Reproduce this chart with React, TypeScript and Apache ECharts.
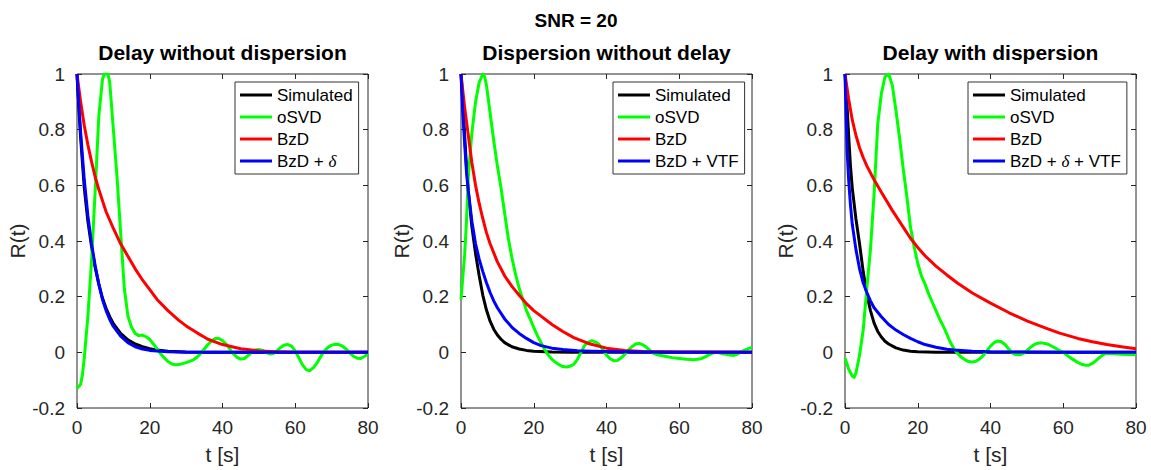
import React, { useEffect, useRef } from "react";
import * as echarts from "echarts";

const FONT = "'Liberation Sans', Arial, Helvetica, sans-serif";

const mainTitle = "SNR = 20";
const panelTitles = ["Delay without dispersion", "Dispersion without delay", "Delay with dispersion"];
const seriesNames = [
  ["Simulated", "oSVD", "BzD", "BzD + δ"],
  ["Simulated", "oSVD", "BzD", "BzD + VTF"],
  ["Simulated", "oSVD", "BzD", "BzD + δ + VTF"],
];
const seriesColors = ["#000000", "#00ff00", "#ff0000", "#0000ff"];
const xLabel = "t [s]";
const yLabel = "R(t)";

// Panel 1: Delay without dispersion
const p1Sim = [[0,1],[0.5,0.88],[1,0.77],[2,0.59],[3,0.47],[4,0.38],[5,0.305],[6,0.245],[7,0.195],[8,0.158],[9,0.128],[10,0.103],[12,0.068],[14,0.045],[16,0.03],[18,0.02],[20,0.013],[22,0.008],[25,0.004],[30,0.001],[35,0],[80,0]];
const p1Osvd = [[0,-0.13],[1,-0.115],[1.5,-0.08],[2,-0.02],[3,0.13],[4,0.33],[5,0.58],[6,0.85],[7,0.98],[7.5,1.0],[8.5,1.0],[9,0.97],[10,0.8],[11,0.63],[12,0.43],[13,0.23],[14,0.13],[15,0.09],[16,0.068],[17,0.06],[18,0.062],[19,0.056],[20,0.046],[21,0.03],[22,0.012],[23,-0.005],[24,-0.02],[25,-0.033],[26,-0.041],[27,-0.045],[28,-0.044],[30,-0.037],[32,-0.027],[33,-0.018],[34,-0.003],[35,0.012],[36,0.028],[37,0.041],[38,0.05],[39,0.05],[40,0.042],[41,0.03],[42,0.012],[43,-0.005],[44,-0.018],[45,-0.024],[46,-0.022],[47,-0.012],[48,0],[49,0.008],[50,0.01],[51,0.007],[52,0],[53,-0.006],[54,-0.004],[55,0.006],[56,0.018],[57,0.026],[58,0.028],[59,0.022],[60,0.005],[61,-0.02],[62,-0.045],[63,-0.062],[64,-0.066],[65,-0.055],[66,-0.038],[67,-0.015],[68,0.005],[69,0.018],[70,0.026],[71,0.029],[72,0.028],[73,0.022],[74,0.012],[75,-0.002],[76,-0.014],[77,-0.021],[78,-0.022],[79,-0.015],[80,-0.005]];
const p1Bzd = [[0,1],[1,0.9],[2,0.815],[3,0.745],[4,0.685],[5,0.63],[6,0.585],[8,0.505],[10,0.445],[12,0.39],[14,0.345],[16,0.3],[18,0.26],[20,0.225],[22,0.19],[25,0.15],[28,0.115],[30,0.095],[33,0.07],[36,0.047],[40,0.028],[45,0.013],[50,0.005],[55,0.002],[60,0],[80,0]];
const p1Fit = [[0,1],[0.5,0.89],[1,0.79],[2,0.62],[3,0.49],[4,0.39],[5,0.31],[6,0.245],[7,0.19],[8,0.15],[9,0.118],[10,0.093],[12,0.058],[14,0.035],[16,0.02],[18,0.012],[20,0.007],[25,0.002],[30,0],[80,0]];

// Panel 2: Dispersion without delay
const p2Sim = [[0,1],[0.5,0.9],[1,0.78],[1.5,0.67],[2,0.58],[3,0.45],[4,0.355],[5,0.275],[6,0.205],[7,0.152],[8,0.112],[9,0.083],[10,0.062],[11,0.047],[12,0.035],[14,0.02],[16,0.012],[18,0.007],[20,0.004],[25,0.001],[30,0],[80,0]];
const p2Osvd = [[0,0.19],[1,0.35],[1.5,0.47],[2,0.63],[3,0.79],[4,0.9],[5,0.97],[6,1.0],[6.5,0.99],[7,0.96],[8,0.86],[9,0.76],[10,0.67],[11,0.59],[12,0.5],[13,0.41],[14,0.34],[15,0.28],[16,0.23],[17,0.19],[18,0.15],[19,0.12],[20,0.09],[21,0.06],[22,0.035],[23,0.01],[24,-0.01],[25,-0.025],[26,-0.036],[27,-0.045],[28,-0.051],[29,-0.053],[30,-0.05],[31,-0.043],[32,-0.025],[33,0],[34,0.025],[35,0.037],[36,0.042],[37,0.037],[38,0.028],[39,0.01],[40,-0.01],[41,-0.023],[42,-0.03],[43,-0.029],[44,-0.02],[45,-0.008],[46,0.008],[47,0.02],[48,0.03],[49,0.032],[50,0.027],[51,0.018],[52,0.006],[53,-0.004],[54,-0.009],[56,-0.014],[58,-0.019],[60,-0.022],[62,-0.025],[64,-0.027],[66,-0.023],[67,-0.017],[68,-0.01],[69,-0.003],[70,0],[71,-0.002],[72,-0.005],[74,-0.01],[75,-0.011],[76,-0.006],[77,0.002],[78,0.008],[79,0.013],[80,0.018]];
const p2Bzd = [[0,1],[1,0.88],[2,0.78],[3,0.68],[4,0.6],[5,0.535],[6,0.48],[7,0.43],[8,0.39],[10,0.325],[12,0.275],[14,0.237],[16,0.205],[18,0.175],[20,0.15],[22,0.13],[25,0.1],[28,0.075],[31,0.053],[35,0.032],[40,0.015],[45,0.007],[50,0.003],[60,0.001],[80,0]];
const p2Fit = [[0,1],[0.5,0.86],[1,0.75],[1.5,0.65],[2,0.58],[3,0.47],[4,0.39],[5,0.335],[6,0.29],[7,0.25],[8,0.215],[9,0.185],[10,0.16],[12,0.12],[14,0.09],[16,0.068],[18,0.05],[20,0.035],[22,0.024],[25,0.015],[28,0.01],[32,0.006],[36,0.004],[40,0.003],[50,0.001],[60,0],[80,0]];

// Panel 3: Delay with dispersion
const p3Sim = [[0,1],[0.5,0.9],[1,0.78],[1.5,0.67],[2,0.59],[3,0.48],[4,0.39],[5,0.29],[6,0.21],[7,0.15],[8,0.105],[9,0.075],[10,0.055],[11,0.04],[12,0.03],[14,0.016],[16,0.008],[18,0.004],[20,0.002],[25,0],[80,0]];
const p3Osvd = [[0,-0.02],[1,-0.06],[2,-0.085],[2.5,-0.09],[3,-0.075],[4,-0.01],[5,0.08],[6,0.23],[7,0.37],[8,0.57],[9,0.82],[10,0.93],[11,0.99],[12,1.0],[13,0.96],[14,0.87],[15,0.77],[16,0.66],[17,0.56],[18,0.45],[19,0.38],[20,0.32],[21,0.275],[22,0.245],[23,0.21],[24,0.18],[25,0.15],[26,0.12],[27,0.095],[28,0.065],[29,0.035],[30,0.012],[31,-0.005],[32,-0.018],[33,-0.027],[34,-0.033],[35,-0.035],[36,-0.032],[37,-0.024],[38,-0.012],[39,0.005],[40,0.022],[41,0.035],[42,0.041],[43,0.038],[44,0.028],[45,0.012],[46,-0.002],[47,-0.008],[48,-0.009],[49,-0.004],[50,0.006],[51,0.018],[52,0.028],[53,0.033],[54,0.034],[55,0.032],[56,0.028],[57,0.021],[58,0.014],[59,0.006],[60,0],[61,-0.01],[62,-0.02],[63,-0.028],[64,-0.036],[65,-0.043],[66,-0.046],[67,-0.046],[68,-0.04],[69,-0.03],[70,-0.018],[71,-0.008],[72,-0.003],[74,-0.005],[76,-0.007],[78,-0.008],[80,-0.008]];
const p3Bzd = [[0,1],[1,0.91],[2,0.835],[3,0.78],[4,0.735],[5,0.7],[6,0.67],[8,0.62],[10,0.575],[13,0.51],[16,0.45],[18,0.41],[20,0.377],[22,0.347],[25,0.31],[28,0.278],[31,0.248],[35,0.213],[40,0.177],[45,0.143],[50,0.113],[55,0.088],[59,0.069],[64,0.05],[68,0.038],[72,0.028],[76,0.02],[80,0.013]];
const p3Fit = [[0,1],[0.3,0.85],[0.6,0.72],[1,0.62],[1.5,0.53],[2,0.46],[3,0.37],[4,0.3],[5,0.25],[6,0.215],[7,0.185],[8,0.16],[10,0.128],[12,0.1],[14,0.08],[16,0.064],[18,0.05],[20,0.038],[22,0.028],[25,0.018],[28,0.011],[30,0.008],[35,0.004],[40,0.002],[50,0.001],[60,0],[80,0]];

const panelData = [
  [p1Sim, p1Osvd, p1Bzd, p1Fit],
  [p2Sim, p2Osvd, p2Bzd, p2Fit],
  [p3Sim, p3Osvd, p3Bzd, p3Fit],
];

const xMin = 0, xMax = 80, xStep = 20;
const yMin = -0.2, yMax = 1, yStep = 0.2;

export default function App() {
  const ref = useRef<HTMLDivElement>(null);
  useEffect(() => {
    document.body.style.margin = "0";
    if (!ref.current) return;
    const chart = echarts.init(ref.current, null, { renderer: "svg" });

    const lefts = [77, 461, 845];
    const gw = 291, gt = 74, gh = 338;
    const legendLefts = [235, 613, 968];
    const axisColor = "#262626";

    const grid: any[] = [];
    const xAxis: any[] = [];
    const yAxis: any[] = [];
    const series: any[] = [];
    const legend: any[] = [];
    const graphic: any[] = [];

    graphic.push({
      type: "text", x: 576, y: 20,
      style: { text: mainTitle, fontSize: 19, fontWeight: "bold", fontFamily: FONT, fill: "#000",
        align: "center", verticalAlign: "middle", textAlign: "center", textVerticalAlign: "middle" },
    });

    const tick = { show: true, inside: true, length: 5, lineStyle: { color: axisColor, width: 1 } };

    for (let i = 0; i < 3; i++) {
      grid.push({ left: lefts[i], top: gt, width: gw, height: gh, show: true, borderColor: axisColor, borderWidth: 1, backgroundColor: "transparent" });
      graphic.push({
        type: "text", x: lefts[i] + gw / 2, y: 52,
        style: { text: panelTitles[i], fontSize: 21, fontWeight: "bold", fontFamily: FONT, fill: "#000",
          align: "center", verticalAlign: "middle", textAlign: "center", textVerticalAlign: "middle" },
      });
      xAxis.push({
        type: "value", gridIndex: i, min: xMin, max: xMax, interval: xStep, position: "bottom",
        axisLine: { show: false, onZero: false },
        axisTick: tick,
        axisLabel: { color: axisColor, fontSize: 19, fontFamily: FONT, margin: 10 },
        splitLine: { show: false },
        name: xLabel, nameLocation: "middle", nameGap: 36,
        nameTextStyle: { fontSize: 21, fontFamily: FONT, color: axisColor },
      });
      xAxis.push({
        type: "value", gridIndex: i, min: xMin, max: xMax, interval: xStep, position: "top",
        axisLine: { show: false, onZero: false },
        axisTick: tick,
        axisLabel: { show: false }, splitLine: { show: false },
      });
      yAxis.push({
        type: "value", gridIndex: i, min: yMin, max: yMax, interval: yStep, position: "left",
        axisLine: { show: false, onZero: false },
        axisTick: tick,
        axisLabel: { color: axisColor, fontSize: 19, fontFamily: FONT, margin: 12,
          formatter: (v: number) => String(Math.round(v * 10) / 10) },
        splitLine: { show: false },
        name: yLabel, nameLocation: "middle", nameGap: 40, nameRotate: 90,
        nameTextStyle: { fontSize: 21, fontFamily: FONT, color: axisColor },
      });
      yAxis.push({
        type: "value", gridIndex: i, min: yMin, max: yMax, interval: yStep, position: "right",
        axisLine: { show: false, onZero: false },
        axisTick: tick,
        axisLabel: { show: false }, splitLine: { show: false },
      });
      for (let j = 0; j < 4; j++) {
        series.push({
          type: "line", name: seriesNames[i][j], xAxisIndex: 2 * i, yAxisIndex: 2 * i,
          data: panelData[i][j], symbol: "none", showSymbol: false, smooth: false,
          lineStyle: { width: 3, color: seriesColors[j], join: "round" }, itemStyle: { color: seriesColors[j] },
          z: 2 + j, silent: true,
        });
      }
      legend.push({
        left: legendLefts[i], top: 82, orient: "vertical", data: seriesNames[i],
        icon: "rect", itemWidth: 32, itemHeight: 3, itemGap: 4,
        padding: [4, 6, 4, 5], borderColor: "#333", borderWidth: 1, backgroundColor: "#fff",
        selectedMode: false,
        formatter: (name: string) => name.replace("δ", "{d|δ}"),
        textStyle: {
          fontSize: 17, fontFamily: FONT, color: "#000", lineHeight: 18,
          rich: { d: { fontSize: 17, fontStyle: "italic", fontFamily: "'Liberation Serif', serif", color: "#000", lineHeight: 18 } },
        },
      });
    }

    chart.setOption({ animation: false, backgroundColor: "#fff", grid, xAxis, yAxis, series, legend, graphic });
    return () => chart.dispose();
  }, []);
  return <div ref={ref} style={{ width: 1151, height: 470 }} />;
}
